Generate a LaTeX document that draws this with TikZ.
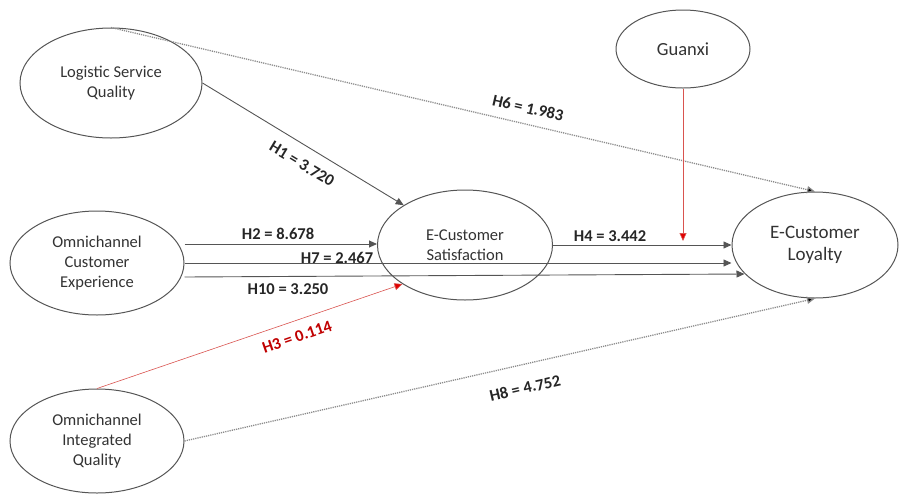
\documentclass[tikz,border=0pt]{standalone}
\usepackage{fontspec}
\setmainfont{Carlito}
\usetikzlibrary{shapes.geometric,arrows.meta,calc}
\definecolor{edgegray}{HTML}{555555}
\definecolor{txtgray}{HTML}{333333}
\definecolor{dotgray}{HTML}{8A8A8A}
\definecolor{redline}{HTML}{D9534F}
\definecolor{redtip}{HTML}{E00000}
\definecolor{redtxt}{HTML}{C00000}
\tikzset{
  construct/.style={ellipse, draw=edgegray, line width=1pt, inner sep=0pt, text=txtgray,
    align=center, font=\fontsize{16.5}{20}\selectfont},
  path/.style={draw=edgegray, line width=0.9pt, -{Triangle[length=8pt,width=7pt]}},
  dottedpath/.style={draw=dotgray, line width=1.3pt, dash pattern=on 1.2pt off 1pt,
    -{Triangle[length=8pt,width=7pt,fill=black]}},
  redpath/.style={draw=redline, line width=0.6pt, -{Triangle[length=8pt,width=7pt,fill=redtip]}},
  hlabel/.style={font=\bfseries\fontsize{16.5}{20}\selectfont, text=black!85, inner sep=0pt},
}
\begin{document}
\begin{tikzpicture}[x=1pt,y=-1pt]
\useasboundingbox (0,0) rectangle (900,496);
% constructs
\node[construct, minimum width=182pt, minimum height=110pt] (lsq) at (111,83) {Logistic Service\\Quality};
\node[construct, minimum width=174pt, minimum height=104pt] (oce) at (97,263) {Omnichannel\\Customer\\Experience};
\node[construct, minimum width=174pt, minimum height=104pt] (oiq) at (97,441) {Omnichannel\\Integrated\\Quality};
\node[construct, minimum width=175pt, minimum height=110pt] (ecs) at (465,245) {E-Customer\\Satisfaction};
\node[construct, minimum width=134pt, minimum height=78pt, font=\fontsize{18.5}{22}\selectfont] (gx) at (683,49) {Guanxi};
\node[construct, minimum width=166pt, minimum height=106pt, font=\fontsize{19}{22}\selectfont] (ecl) at (815,245) {E-Customer\\Loyalty};
% paths
\draw[path] (lsq.east) -- (ecs.147);
\draw[dottedpath] (lsq.north) -- (ecl.north);
\draw[path] ([yshift=19pt]oce.east) -- ([yshift=19pt]oce.east -| ecs.west);
\draw[path] (oce.east) -- (oce.east -| ecl.west);
\draw[path] ([yshift=-14pt]oce.east) -- ($(ecl.west)+(13,29)$);
\draw[path] (ecs.east) -- (ecl.west);
\draw[redpath] (gx.south) -- ($(gx.south |- ecl.west)+(0,-4)$);
\draw[redpath] (oiq.north) -- (ecs.212);
\draw[dottedpath] (oiq.east) -- (ecl.south);
% labels
\node[hlabel, rotate=-31] (l1) at (302,164) {H1 = 3.720};
\node[hlabel, rotate=-13] (l6) at (528,108) {H6 = 1.983};
\node[hlabel] (l2) at (278,234) {H2 = 8.678};
\node[hlabel] (l7) at (337,258) {H7 = 2.467};
\node[hlabel] (l10) at (288,289) {H10 = 3.250};
\node[hlabel, text=redtxt, rotate=19] (l3) at (297,337) {H3 = 0.114};
\node[hlabel] (l4) at (610,236) {H4 = 3.442};
\node[hlabel, rotate=13] (l8) at (525,388) {H8 = 4.752};
\end{tikzpicture}
\end{document}
